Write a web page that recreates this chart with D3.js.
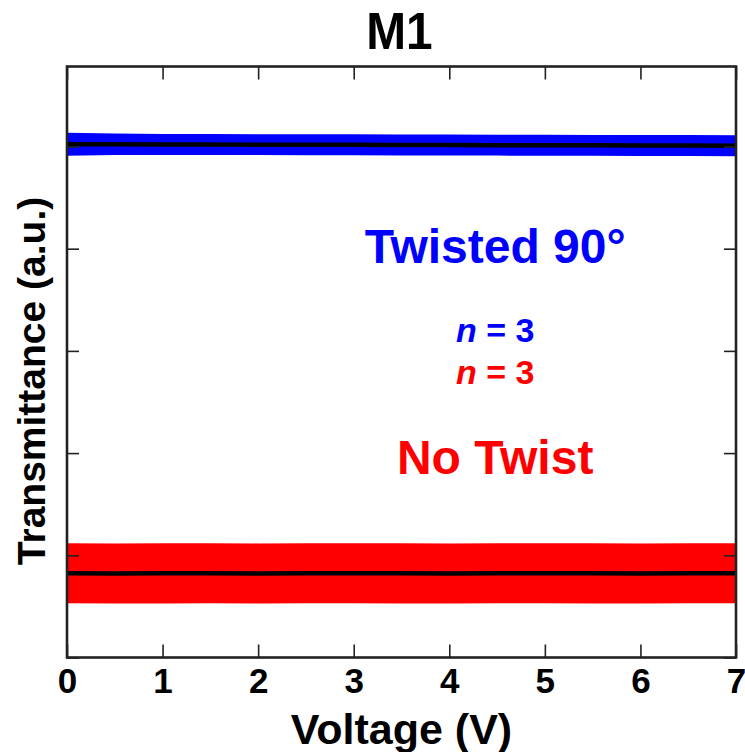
<!DOCTYPE html>
<html>
<head>
<meta charset="utf-8">
<script src="https://cdn.jsdelivr.net/npm/d3@7/dist/d3.min.js"></script>
<style>
  html, body { margin: 0; padding: 0; background: #fff; }
  svg { display: block; }
  text { font-family: "Liberation Sans", Arial, Helvetica, sans-serif; font-weight: bold; }
</style>
</head>
<body>
<svg id="chart" width="745" height="752"></svg>
<script>
// ---- data ----
const voltage = [0, 0.5, 1, 1.5, 2, 2.5, 3, 3.5, 4, 4.5, 5, 5.5, 6, 6.5, 7];
const twistedMean = [1.0045, 1.0043, 1.004, 1.0038, 1.0036, 1.0034, 1.0032, 1.003, 1.0028, 1.0026, 1.0024, 1.0022, 1.002, 1.0018, 1.0016];
const twistedStd  = [0.0225, 0.021, 0.0205, 0.0205, 0.0205, 0.0205, 0.0205, 0.0205, 0.0205, 0.0205, 0.0205, 0.0205, 0.0205, 0.0205, 0.0205];
const noTwistMean = [0.1647, 0.1645, 0.1647, 0.1648, 0.1646, 0.1647, 0.1648, 0.1647, 0.1646, 0.1647, 0.1648, 0.1647, 0.1646, 0.1647, 0.1647];
const noTwistStd  = [0.0587, 0.0587, 0.0588, 0.0588, 0.0587, 0.0587, 0.0588, 0.0588, 0.0587, 0.0587, 0.0588, 0.0588, 0.0587, 0.0587, 0.0587];
const xTicks = [0, 1, 2, 3, 4, 5, 6, 7];
const yTicks = [0, 0.2, 0.4, 0.6, 0.8, 1.0];
const title = "M1";
const xLabel = "Voltage (V)";
const yLabel = "Transmittance (a.u.)";
const annotations = [
  { text: "Twisted 90°", x: 4.48, y: 0.772, color: "#0000ff", size: 48, italicN: false },
  { text: "= 3", x: 4.48, y: 0.617, color: "#0000ff", size: 34, italicN: true },
  { text: "= 3", x: 4.48, y: 0.535, color: "#ff0000", size: 34, italicN: true },
  { text: "No Twist", x: 4.48, y: 0.36, color: "#ff0000", size: 48, italicN: false }
];

// ---- layout ----
const svg = d3.select("#chart");
const L = 67, R = 736, T = 66.5, B = 657.5;
const x = d3.scaleLinear().domain([0, 7]).range([L, R]);
const y = d3.scaleLinear().domain([0, 1.1565]).range([B, T]);

const series = [
  { mean: twistedMean, std: twistedStd, color: "#0000ff" },
  { mean: noTwistMean, std: noTwistStd, color: "#ff0000" }
];

const area = d3.area().curve(d3.curveLinear);
const line = d3.line().curve(d3.curveLinear);

series.forEach(s => {
  const pts = voltage.map((v, i) => ({ v, m: s.mean[i], sd: s.std[i] }));
  svg.append("path")
    .attr("d", area.x(d => x(d.v)).y0(d => y(d.m - d.sd)).y1(d => y(d.m + d.sd))(pts))
    .attr("fill", s.color);
});
series.forEach(s => {
  const pts = voltage.map((v, i) => ({ v, m: s.mean[i] }));
  svg.append("path")
    .attr("d", line.x(d => x(d.v)).y(d => y(d.m))(pts))
    .attr("fill", "none").attr("stroke", "#000").attr("stroke-width", 4.5);
});

// ---- axes (box with inward ticks on all sides) ----
const axisColor = "#222";
const gB = svg.append("g").attr("transform", `translate(0,${B})`)
  .call(d3.axisBottom(x).tickValues(xTicks).tickFormat(d3.format("d")).tickSizeInner(-13).tickSizeOuter(0).tickPadding(14));
const gT = svg.append("g").attr("transform", `translate(0,${T})`)
  .call(d3.axisTop(x).tickValues(xTicks).tickFormat("").tickSizeInner(-13).tickSizeOuter(0));
const gL = svg.append("g").attr("transform", `translate(${L},0)`)
  .call(d3.axisLeft(y).tickValues(yTicks).tickFormat("").tickSizeInner(-12).tickSizeOuter(0));
const gR = svg.append("g").attr("transform", `translate(${R},0)`)
  .call(d3.axisRight(y).tickValues(yTicks).tickFormat("").tickSizeInner(-12).tickSizeOuter(0));
[gB, gT, gL, gR].forEach(g => {
  g.select(".domain").remove();
  g.selectAll(".tick line").attr("stroke", axisColor).attr("stroke-width", 1.6);
});
gB.selectAll(".tick text")
  .attr("fill", "#000").attr("font-size", 35).attr("font-weight", "bold")
  .attr("dy", null).attr("y", 35.5)
  .attr("font-family", '"Liberation Sans", Arial, sans-serif');

svg.append("rect")
  .attr("x", L).attr("y", T).attr("width", R - L).attr("height", B - T)
  .attr("fill", "none").attr("stroke", axisColor).attr("stroke-width", 2.6);

// ---- labels ----
svg.append("text").attr("transform", `translate(${(L + R) / 2 - 2},49) scale(0.92,1)`)
  .attr("text-anchor", "middle").attr("font-size", 52).attr("fill", "#000").text(title);
svg.append("text").attr("x", (L + R) / 2).attr("y", 744)
  .attr("text-anchor", "middle").attr("font-size", 43).attr("fill", "#000").text(xLabel);
svg.append("text").attr("transform", `translate(45,381) rotate(-90)`)
  .attr("text-anchor", "middle").attr("font-size", 39).attr("fill", "#000").text(yLabel);

annotations.forEach(a => {
  const t = svg.append("text").attr("x", x(a.x)).attr("y", y(a.y))
    .attr("text-anchor", "middle").attr("font-size", a.size).attr("fill", a.color);
  if (a.italicN) {
    t.append("tspan").attr("font-style", "italic").text("n");
    t.append("tspan").text(" " + a.text);
  } else {
    t.text(a.text);
  }
});
</script>
</body>
</html>
